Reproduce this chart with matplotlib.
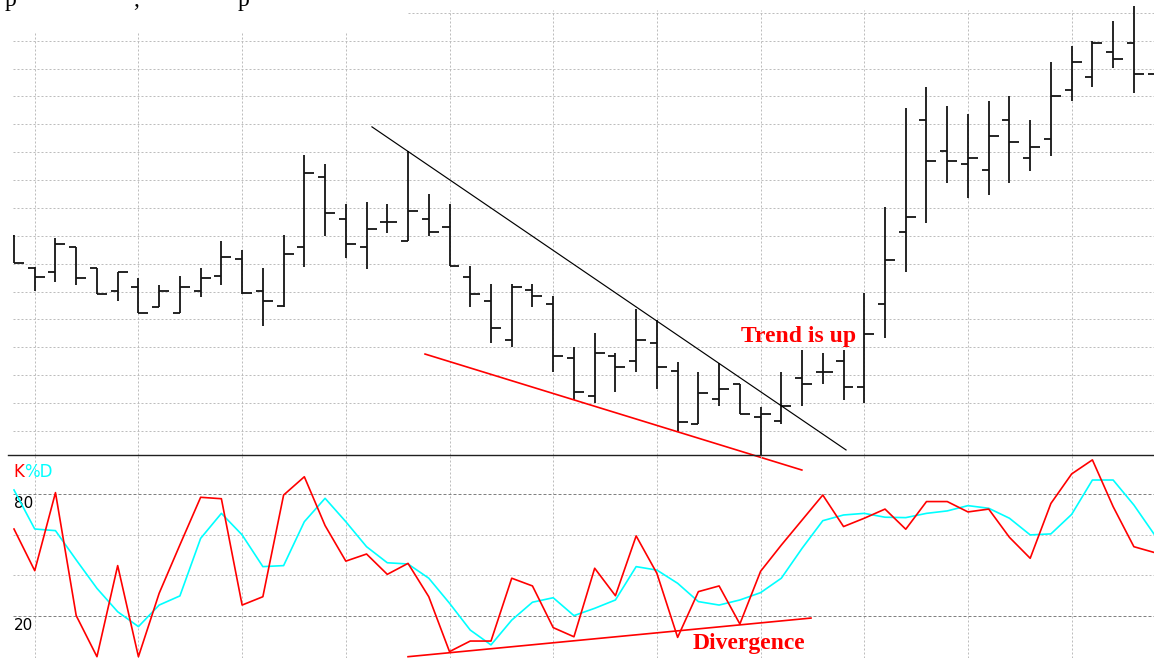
import numpy as np
import matplotlib.pyplot as plt
from matplotlib.lines import Line2D

# daily bars: open / high / low / close
opens = [17.00, 15.83, 15.72, 16.61, 15.84, 15.02, 15.16, 14.46, 14.24, 15.03,
         15.56, 16.16, 15.03, 14.49, 16.59, 19.10, 17.60, 16.59, 17.51, 16.83,
         17.60, 17.33, 15.54, 14.68, 13.27, 15.06, 14.57, 12.61, 11.26, 12.70,
         12.51, 13.17, 12.15, 10.24, 11.15, 11.68, 10.51, 10.37, 11.91, 12.13,
         12.50, 11.59, 14.56, 17.13, 21.16, 20.05, 19.58, 19.36, 21.16, 19.78,
         20.47, 22.24, 22.71, 23.61, 23.91, 22.81]
highs = [17.03, 15.87, 16.91, 16.61, 15.84, 15.72, 15.50, 15.24, 15.57, 15.84,
         16.83, 16.49, 15.84, 17.03, 19.90, 19.58, 18.13, 18.23, 18.13, 20.05,
         18.50, 18.13, 15.92, 15.26, 15.26, 15.26, 14.86, 13.00, 13.51, 12.81,
         14.38, 13.98, 12.49, 12.13, 12.43, 11.68, 10.85, 12.11, 12.91, 12.81,
         12.89, 14.94, 18.03, 21.58, 22.35, 21.67, 21.36, 21.84, 22.03, 21.16,
         23.25, 23.82, 24.00, 24.71, 25.25, 23.40]
lows = [16.03, 15.02, 15.34, 15.24, 14.92, 14.66, 14.22, 14.46, 14.22, 14.82,
        15.24, 14.92, 13.77, 14.46, 15.90, 17.00, 16.22, 15.80, 17.09, 16.82,
        17.00, 15.92, 14.46, 13.15, 13.00, 14.46, 12.13, 11.11, 10.99, 11.39,
        12.11, 11.50, 9.97, 10.24, 10.91, 10.60, 9.14, 10.24, 10.91, 11.69,
        11.11, 10.99, 13.35, 15.69, 17.47, 18.89, 18.35, 18.47, 18.89, 19.34,
        19.88, 21.82, 22.33, 23.01, 22.12, 22.30]
closes = [16.03, 15.54, 16.71, 15.48, 14.92, 15.72, 14.24, 15.03, 15.16, 15.48,
          16.23, 14.94, 14.66, 16.34, 19.27, 17.81, 16.70, 17.24, 17.51, 17.90,
          17.13, 15.92, 14.92, 13.69, 15.18, 14.84, 12.69, 11.39, 12.81, 12.29,
          13.27, 12.29, 10.33, 11.37, 11.50, 10.60, 10.61, 10.91, 11.69, 12.13,
          11.59, 13.48, 16.14, 17.69, 19.69, 19.69, 19.78, 20.58, 20.36, 20.17,
          22.02, 23.23, 23.91, 23.34, 22.81, 23.00]

# stochastic oscillator
pct_k = [62.8, 42.3, 80.7, 20.2, 0.0, 44.8, 0.0, 31.2, 55.0, 78.4,
         77.7, 25.4, 29.5, 79.5, 88.5, 64.5, 47.0, 50.5, 40.5, 45.9,
         29.5, 2.5, 7.7, 7.7, 38.6, 34.8, 14.3, 9.8, 43.5, 30.0,
         59.4, 41.0, 9.5, 32.0, 34.8, 16.1, 42.0, 54.9, 67.2, 79.5,
         64.0, 68.1, 72.6, 62.7, 76.3, 76.3, 71.2, 72.6, 58.7, 48.4,
         75.4, 89.9, 96.8, 73.8, 54.1, 51.2]
pct_d = [82.0, 62.8, 62.0, 47.6, 33.6, 22.1, 14.8, 25.4, 29.9, 58.2,
         70.5, 59.9, 44.3, 44.8, 66.4, 77.9, 66.4, 54.1, 46.2, 45.6,
         38.6, 26.3, 13.1, 5.8, 18.0, 26.8, 29.0, 20.2, 23.8, 27.9,
         44.3, 42.6, 36.1, 27.1, 25.4, 27.9, 31.5, 38.6, 53.3, 66.9,
         69.7, 70.5, 68.6, 68.4, 70.5, 71.7, 74.3, 73.0, 68.1, 59.9,
         60.4, 70.0, 86.9, 86.9, 74.6, 59.9]

price_grid = list(range(10, 26))
stoch_light = [40, 60]
stoch_levels = [20, 80]

# hand-drawn trend lines (bar index, value)
resist_x, resist_y = [17.26, 40.12], [20.91, 9.32]
support_x, support_y = [19.82, 37.99], [12.76, 8.60]
diverg_x, diverg_y = [19.0, 38.43], [0.0, 19.0]

W, H = 1154, 658
fig = plt.figure(figsize=(W / 100, H / 100), dpi=100)
fig.patch.set_facecolor('white')

ax = fig.add_axes([13 / W, 1 - 455 / H, 1 - 13 / W, 455 / H])
axk = fig.add_axes([13 / W, 0, 1 - 13 / W, (H - 455) / H])
xlim = (-0.048, 54.97)
for a in (ax, axk):
    a.set_xlim(*xlim)
    a.set_axis_off()
ax.set_ylim(9.139, 25.46)
axk.set_ylim(-0.64, 99.2)

x = np.arange(len(opens))
vgrid = x[1::5]
light = dict(colors='#bdbdbd', linewidth=0.72, linestyles=[(0, (2, 2))], zorder=0)

# price panel grid
ax.hlines(price_grid[:-1], xlim[0], xlim[1], **light)
ax.hlines(price_grid[-1], 19.0, xlim[1], **light)
ax.vlines(vgrid[vgrid < 19], 9.139, 24.28, **light)
ax.vlines(vgrid[vgrid >= 19], 9.139, 25.1, **light)

# OHLC bars
bar_kw = dict(colors='#141414', linewidth=1.3, zorder=3)
lc = [ax.vlines(x, lows, highs, **bar_kw),
      ax.hlines(opens, x - 0.34, x, **bar_kw),
      ax.hlines(closes, x, x + 0.48, **bar_kw)]
for c in lc:
    c.set_capstyle('butt')

ax.plot(resist_x, resist_y, color='black', lw=0.85, zorder=4)
ax.plot(support_x, support_y, color='#ff0000', lw=1.2, zorder=4, clip_on=False)
ax.text(35.05, 13.19, 'Trend is up', color='#ff0000', fontsize=17,
        fontfamily='Liberation Serif', fontweight='bold', va='baseline')

# stochastic panel
axk.vlines(vgrid, -0.64, 99.2, **light)
axk.hlines(stoch_light, xlim[0], xlim[1], **light)
axk.hlines(stoch_levels, xlim[0], xlim[1], colors='#808080', linewidth=0.72,
           linestyles=[(0, (3, 2))], zorder=0)
axk.plot(x, pct_d, color='#00ffff', lw=1.2, zorder=2)
axk.plot(x, pct_k, color='#ff0000', lw=1.2, zorder=2)
axk.plot(diverg_x, diverg_y, color='#ff0000', lw=1.2, zorder=3)

axk.text(0.0, 75.5, '80', fontsize=11, va='center', ha='left', zorder=1)
axk.text(0.0, 15.5, '20', fontsize=11, va='center', ha='left', zorder=1)
kt = axk.text(-0.05, 90.9, 'K', color='#ff0000', fontsize=12, va='center', ha='left')
axk.annotate('%D', xy=(1, 0.5), xycoords=kt, va='center', ha='left',
             color='#00ffff', fontsize=12)
axk.text(32.74, 3.8, 'Divergence', color='#ff0000', fontsize=17,
         fontfamily='Liberation Serif', fontweight='bold', va='baseline',
         clip_on=False)

# divider between the panels
fig.add_artist(Line2D([8 / W, 1], [1 - 455 / H] * 2, color='#202020', lw=1.0))

# tail of the page text above the chart
for px, s in [(5, 'p'), (133, ','), (238, 'p')]:
    fig.text(px / W, 1 - 6 / H, s, fontsize=17, fontfamily='Liberation Serif',
             va='baseline', ha='left')

fig.savefig('out.png', dpi=100)
